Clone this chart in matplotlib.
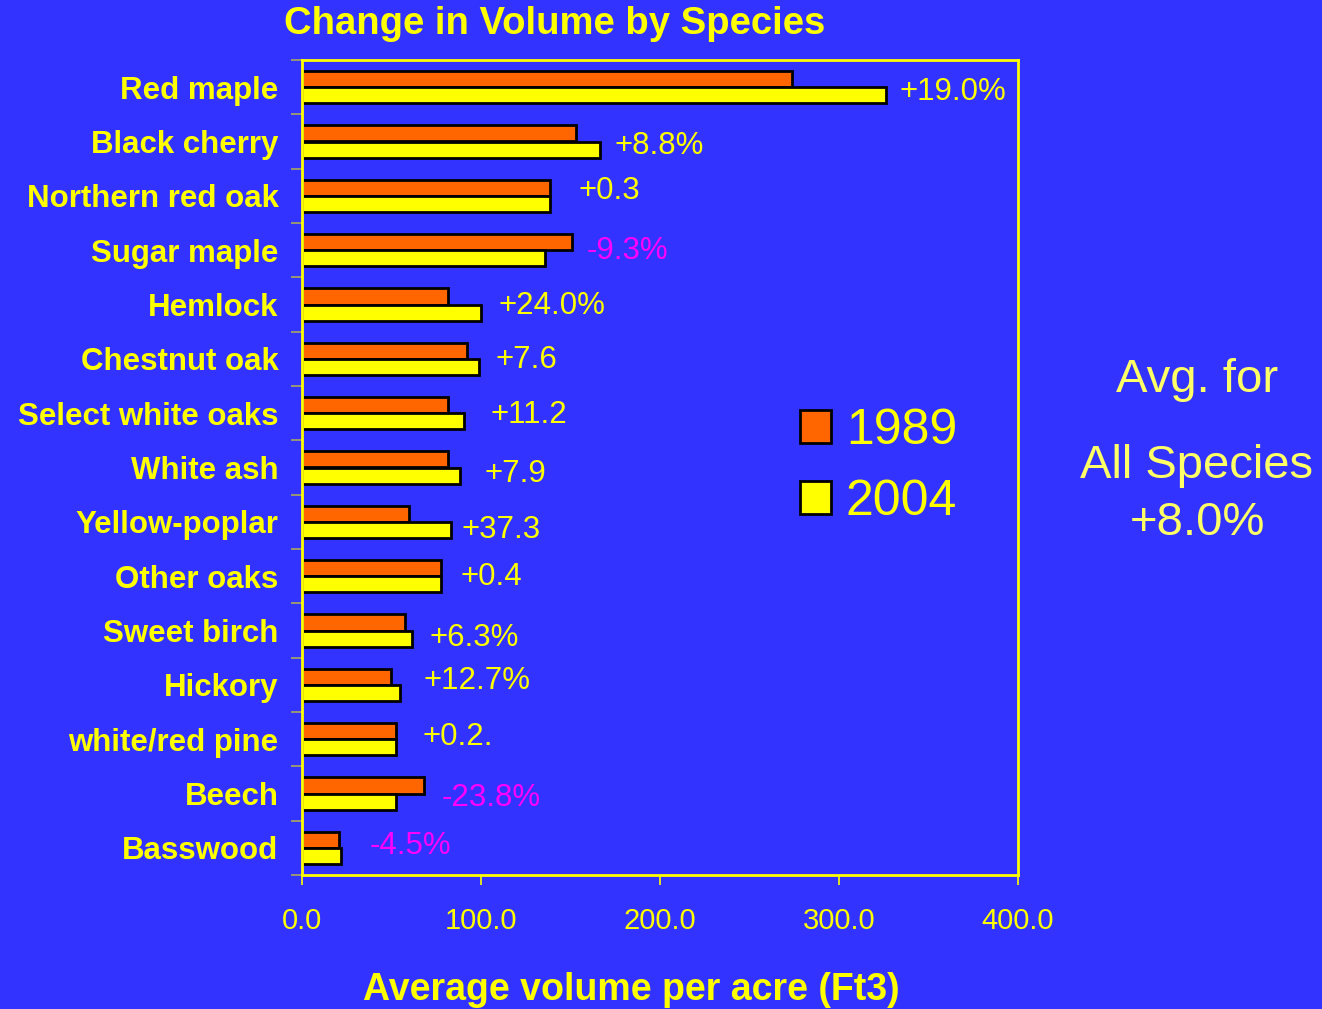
import numpy as np
import matplotlib
matplotlib.use("Agg")
import matplotlib.pyplot as plt

plt.rcParams['font.family'] = ['Liberation Sans', 'DejaVu Sans']

species = ['Red maple', 'Black cherry', 'Northern red oak', 'Sugar maple', 'Hemlock',
           'Chestnut oak', 'Select white oaks', 'White ash', 'Yellow-poplar', 'Other oaks',
           'Sweet birch', 'Hickory', 'white/red pine', 'Beech', 'Basswood']
vol_1989 = [274, 153, 138.5, 151, 81.5, 92, 81.5, 81.5, 60, 77.5, 57.5, 49.5, 52.5, 68, 20.5]
vol_2004 = [326, 166.5, 138.5, 136, 100, 99, 90.5, 88, 83, 77.5, 61.5, 55, 52.5, 52.5, 22]
change_labels = ['+19.0%', '+8.8%', '+0.3', '-9.3%', '+24.0%', '+7.6', '+11.2', '+7.9',
                 '+37.3', '+0.4', '+6.3%', '+12.7%', '+0.2.', '-23.8%', '-4.5%']
xticks = [0, 100, 200, 300, 400]

BG = '#3333FF'
YEL = '#FFFF00'
ORG = '#FF6600'
MAG = '#FF00FF'

fig = plt.figure(figsize=(13.22, 10.09), dpi=100, facecolor=BG)
ax = fig.add_axes([302/1322, 1-875/1009, 716/1322, 815/1009])
ax.set_facecolor(BG)

y = np.arange(len(species))
h = 0.3
ax.barh(y - h/2, vol_1989, height=h, color=ORG, edgecolor='black', linewidth=2, label='1989')
ax.barh(y + h/2, vol_2004, height=h, color=YEL, edgecolor='black', linewidth=2, label='2004')

ax.set_xlim(0, 400)
ax.set_ylim(len(species) - 0.5, -0.5)

# label placement tweaks (data-unit gap after bar end, vertical nudge in px)
gaps = [8, 8, 16, 8, 10, 9, 15, 14, 6, 11, 10, 13, 15, 10, 16]
nudges = [-5, -4, 5, -1, -1, -1, -2, -7, -8, -1, -7, 4, 2, -4, 2]
for i, txt in enumerate(change_labels):
    xe = max(vol_1989[i], vol_2004[i]) + gaps[i]
    col = MAG if txt.startswith('-') else YEL
    ax.annotate(txt, (xe, y[i]), xytext=(0, nudges[i] * 0.72), textcoords='offset points',
                ha='left', va='center', fontsize=22.5, color=col)

for s in ax.spines.values():
    s.set_color(YEL)
    s.set_linewidth(2)

ax.set_xticks(xticks)
ax.set_xticklabels([f'{v:.1f}' for v in xticks], fontsize=21, color=YEL)
ax.tick_params(axis='x', direction='out', length=7, width=1.2, color=YEL, pad=16)

ax.set_yticks(y)
ax.set_yticklabels(species, fontsize=22.5, fontweight='bold', color=YEL)
ax.tick_params(axis='y', which='major', length=0, pad=17)
ax.set_yticks(np.arange(len(species) + 1) - 0.5, minor=True)
ax.tick_params(axis='y', which='minor', direction='out', length=8, width=1.2, color='#a8a860')

fig.text(555/1322, 1-24/1009, 'Change in Volume by Species', ha='center', va='center',
         fontsize=27.5, fontweight='bold', color=YEL)
fig.text(631/1322, 1-990/1009, 'Average volume per acre (Ft3)', ha='center', va='center',
         fontsize=27, fontweight='bold', color=YEL)

leg = fig.legend(loc='upper left', bbox_to_anchor=(775/1322, 1-383/1009), frameon=False,
                 fontsize=36, handlelength=0.62, handleheight=0.62, handletextpad=0.3,
                 labelspacing=0.5, borderpad=0)
for t in leg.get_texts():
    t.set_color(YEL)

PALE = '#FFFF66'
fig.text(1197/1322, 1-380/1009, 'Avg. for', ha='center', va='center', fontsize=34, color=PALE)
fig.text(1197/1322, 1-466/1009, 'All Species', ha='center', va='center', fontsize=34, color=PALE)
fig.text(1197/1322, 1-523/1009, '+8.0%', ha='center', va='center', fontsize=34, color=PALE)

fig.savefig('out.png', dpi=100, facecolor=BG)
